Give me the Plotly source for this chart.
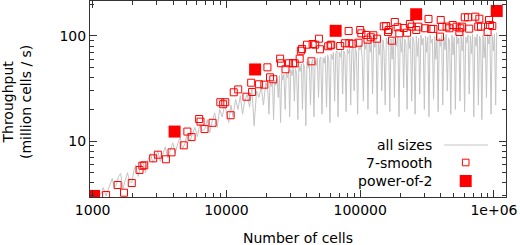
import plotly.graph_objects as go

# ---------------- data ----------------
all_x = [1000, 1050, 1100, 1150, 1200, 1260, 1300, 1350, 1400, 1450, 1500, 1560, 1620, 1680, 1750, 1820, 1890,
         1960, 2030, 2100, 2190, 2280, 2380, 2480, 2590, 2700, 2820, 2940, 3070, 3200, 3340, 3490, 3640, 3800,
         3970, 4140, 4320, 4510, 4700, 4900, 5120, 5340, 5570, 5810, 6060, 6320, 6600, 6890, 7190, 7500, 7830,
         8170, 8530, 8900, 9290, 9700,
         10000, 10400, 10800, 11200, 11700, 12200, 12700, 13200, 13700, 14300, 14900, 15500, 16100, 16800, 17500,
         18200, 18900, 19700,
         20000, 20400, 20800, 21200, 21600, 22100, 22500, 23000, 23400, 23900,
         24400, 24900, 25400, 25900, 26400, 26900, 27500, 28000, 28600, 29200,
         29700, 30300, 30900, 31600, 32200, 32800, 33500, 34200, 34800, 35500,
         36300, 37000, 37700, 38500, 39200, 40000, 40800, 41600, 42500, 43300,
         44200, 45100, 46000, 46900, 47800, 48800, 49700, 50700, 51800, 52800,
         53800, 54900, 56000, 57100, 58300, 59400, 60600, 61900, 63100, 64400,
         65600, 67000, 68300, 69700, 71100, 72500, 73900, 75400, 76900, 78500,
         80000, 81600, 83300, 84900, 86600, 88400, 90100, 91900, 93800, 95700,
         97600, 99500,
         101500, 103500, 105600, 107700, 109900, 112100, 114300, 116600, 118900, 121300,
         123700, 126200, 128700, 131300, 133900, 136600, 139300, 142100, 145000, 147900,
         150800, 153800, 156900, 160000, 163200, 166500, 169800, 173200, 176700, 180200,
         183800, 187500, 191300, 195100, 199000, 203000, 207000, 211200, 215400, 219700,
         224100, 228600, 233100, 237800, 242600, 247400, 252400, 257400, 262600, 267800,
         273200, 278600, 284200, 289900, 295700, 301600, 307600, 313800, 320100, 326500,
         333000, 339600, 346400, 353400, 360400, 367600, 375000, 382500, 390100, 397900,
         405900, 414000, 422300, 430700, 439300, 448100, 457100, 466200, 475500, 485000,
         494700, 504600, 514700, 525000, 535500, 546300, 557200, 568300, 579700, 591300,
         603100, 615200, 627500, 640000, 652800, 665900, 679200, 692800, 706700, 720800,
         735200, 749900, 764900, 780200, 795800, 811700, 828000, 844500, 861400, 878600,
         896200, 914100, 932400, 951100, 970100, 989500, 1009300, 1029500, 1048576]
all_y = [3.0, 2.9, 3.3, 3.1, 3.6, 3.0, 3.4, 3.9, 4.4, 3.6, 3.8, 4.6, 4.9, 3.5, 4.2, 5.0, 4.1,
         4.0, 5.2, 5.9, 4.6, 5.6, 6.3, 5.0, 6.6, 7.6, 6.2, 7.0, 8.0, 6.4, 7.4, 8.8, 6.9, 8.3,
         9.6, 7.6, 9.4, 10.8, 8.4, 9.5, 12.0, 10.0, 11.5, 13.5, 11.0, 14.5, 12.5, 13.0, 16.0, 12.0, 15.5,
         18.5, 13.5, 20.0, 17.0, 22.0,
         19, 15, 22, 17, 25, 20, 27, 18, 24, 28, 21, 32, 14, 30, 26,
         33, 22, 36,
         34, 30, 18, 36, 33, 37, 16, 38, 34, 40,
         26, 42, 15, 44, 38, 43, 20, 45, 40, 47,
         17, 48, 42, 50, 24, 49, 44, 16, 52, 46,
         54, 20, 55, 48, 14, 57, 50, 58, 22, 56,
         60, 17, 58, 52, 62, 26, 60, 63, 18, 62,
         55, 64, 21, 66, 58, 15, 67, 60, 70, 24,
         68, 72, 17, 70, 63, 73, 28, 72, 66, 19,
         75, 68, 76, 22, 74, 78, 30, 76, 70, 18,
         80, 74,
         82, 60, 24, 88, 75, 90, 20, 86, 70, 92,
         28, 90, 78, 94, 18, 88, 66, 95, 30, 92,
         72, 22, 96, 84, 90, 19, 94, 60, 97, 26,
         92, 80, 98, 17, 95, 70, 99, 32, 93, 84,
         20, 100, 76, 96, 24, 98, 88, 18, 100, 64,
         96, 28, 102, 82, 95, 20, 100, 70, 98, 17,
         102, 86, 94, 25, 100, 60, 104, 19, 96, 80,
         102, 22, 98, 74, 104, 30, 96, 88, 18, 102,
         66, 98, 20, 104, 84, 96, 24, 100, 72, 105,
         19, 98, 86, 102, 28, 100, 68, 104, 17, 98,
         80, 104, 22, 100, 90, 16, 102, 62, 98, 26,
         104, 84, 100, 18, 102, 72, 104, 22, 108]

smooth_x = [1260, 1536, 1715, 1960, 2240, 2352, 2430, 2835, 3072, 3528, 3888, 4800, 5103, 5488, 6250, 6400,
            6860, 7875, 9000, 9450, 9800, 10752, 11340, 12250, 14112, 15309, 15552, 17496, 19200, 20250, 21168,
            22400, 25200, 25600, 27648, 29400, 31500, 32400, 35280, 36000, 36750, 40000, 43200, 44100, 46080,
            49152, 50000, 57600, 60000, 60750, 70875, 76800, 81920, 82944, 88200, 97200, 100000, 102060, 110592,
            113400, 120000, 125440, 133343, 150000, 156250, 161280, 163296, 172800, 181440, 190512, 196000,
            211680, 224000, 235200, 243000, 262440, 272160, 306180, 324000, 338688, 352800, 395136, 400000,
            408240, 442368, 464000, 491520, 524880, 551124, 560000, 576000, 604800, 640000, 653184, 725760,
            762048, 777600, 800000, 896000, 918540, 933120, 972000]
smooth_y = [3.06, 3.81, 3.22, 3.98, 5.30, 5.82, 5.87, 6.84, 7.41, 6.70, 7.80, 9.10, 12.3, 10.9, 16.2, 15.3,
            13.0, 14.9, 23.4, 22.4, 23.4, 17.6, 29.1, 31.0, 26.4, 35.9, 29.3, 34.7, 34.4, 50.3, 40.4,
            38.7, 60.8, 55.0, 48.2, 55.0, 55.0, 55.0, 60.8, 72.4, 75.2, 82.6, 57.4, 83.9, 82.6,
            94.2, 74.7, 79.8, 81.5, 82.6, 80.3, 85.2, 111.6, 85.2, 84.4, 86.3, 114, 106, 102.2,
            92.2, 97.2, 101.6, 94.2, 123.6, 124.5, 109.2, 114, 90.2, 135.9, 121, 106,
            119.2, 107.4, 130, 122.7, 114, 122.7, 118.4, 145.2, 116.7, 116.7, 98.5, 142,
            122.7, 122.7, 118.4, 127.3, 122.7, 109.2, 118.4, 122.7, 150.7, 150.7, 117.4, 152.7,
            122.7, 146, 122.7, 109.2, 142, 127.3, 124.5]

pow2_x = [1024, 4096, 16384, 65536, 262144, 1048576]
pow2_y = [3.0, 12.3, 48, 112, 161, 173]

x_tickvals = [1000, 10000, 100000, 1000000]
x_ticktext = ["1000", "10000", "100000", "1e+06"]
y_tickvals = [10, 100]
y_ticktext = ["10", "100"]

legend_labels = ["all sizes", "7-smooth", "power-of-2"]

# ---------------- figure ----------------
RED = "#ff0000"
GRAY = "#c4c4c4"
FONT = "DejaVu Sans"

fig = go.Figure()
fig.add_trace(go.Scatter(x=all_x, y=all_y, mode="lines",
                         line=dict(color=GRAY, width=1), showlegend=False, hoverinfo="skip"))
fig.add_trace(go.Scatter(x=smooth_x, y=smooth_y, mode="markers",
                         marker=dict(symbol="square-open", size=7, color=RED, line=dict(width=1, color=RED)),
                         showlegend=False))
fig.add_trace(go.Scatter(x=pow2_x, y=pow2_y, mode="markers",
                         marker=dict(symbol="square", size=12, color=RED, line=dict(width=0)),
                         showlegend=False))

L, R, T, B = 90, 14, 1, 48
W, H = 520, 245
pw, ph = W - L - R, H - T - B


def px2paper(px, py):
    return (px - L) / pw, (H - B - py) / ph


minor_x = [m * 10 ** e for e in (3, 4, 5) for m in range(2, 10)]
minor_y = [m * 10 ** e for e in (0, 1, 2) for m in range(2, 10)]

axis_common = dict(type="log", showgrid=False, zeroline=False, showline=True, linecolor="#333333",
                   linewidth=1, mirror="allticks", ticks="inside", ticklen=7, tickwidth=1, tickcolor="#333333",
                   tickfont=dict(family=FONT, size=14, color="#000000"))

fig.update_xaxes(range=[2.98, 6.09], tickmode="array", tickvals=x_tickvals, ticktext=x_ticktext,
                 minor=dict(tickmode="array", tickvals=minor_x, ticks="inside", ticklen=4,
                            tickcolor="#333333", showgrid=False),
                 **axis_common)
fig.update_yaxes(range=[0.467, 2.333], tickmode="array", tickvals=y_tickvals, ticktext=y_ticktext,
                 minor=dict(tickmode="array", tickvals=minor_y, ticks="inside", ticklen=4,
                            tickcolor="#333333", showgrid=False),
                 **axis_common)

annotations = []
# axis titles
ax, ay = px2paper(298, 238)
annotations.append(dict(text="Number of cells", x=ax, y=ay, xref="paper", yref="paper",
                        showarrow=False, xanchor="center", yanchor="middle",
                        font=dict(family=FONT, size=14, color="#000000")))
ax, ay = px2paper(17, 102)
annotations.append(dict(text="Throughput<br>(million cells / s)", x=ax, y=ay, xref="paper", yref="paper",
                        showarrow=False, textangle=-90, xanchor="center", yanchor="middle",
                        font=dict(family=FONT, size=14, color="#000000")))

# legend (gnuplot style: text right-aligned, key to the right)
legend_rows = [145, 162.5, 181]
for lab, ry in zip(legend_labels, legend_rows):
    ax, ay = px2paper(434, ry)
    annotations.append(dict(text=lab, x=ax, y=ay, xref="paper", yref="paper", showarrow=False,
                            xanchor="right", yanchor="middle",
                            font=dict(family=FONT, size=14, color="#000000")))

shapes = []
x0, y0 = px2paper(444, legend_rows[0])
x1, _ = px2paper(488, legend_rows[0])
shapes.append(dict(type="line", xref="paper", yref="paper", x0=x0, x1=x1, y0=y0, y1=y0,
                   line=dict(color=GRAY, width=1)))
cx, cy = 465.7, legend_rows[1]
a0, b0 = px2paper(cx - 3.3, cy + 3.3)
a1, b1 = px2paper(cx + 3.3, cy - 3.3)
shapes.append(dict(type="rect", xref="paper", yref="paper", x0=a0, x1=a1, y0=b0, y1=b1,
                   line=dict(color=RED, width=1), fillcolor="rgba(0,0,0,0)"))
cx, cy = 465.7, legend_rows[2]
a0, b0 = px2paper(cx - 6, cy + 6)
a1, b1 = px2paper(cx + 6, cy - 6)
shapes.append(dict(type="rect", xref="paper", yref="paper", x0=a0, x1=a1, y0=b0, y1=b1,
                   line=dict(width=0), fillcolor=RED))

fig.update_layout(width=W, height=H, margin=dict(l=L, r=R, t=T, b=B),
                  paper_bgcolor="white", plot_bgcolor="white",
                  font=dict(family=FONT, size=14, color="#000000"),
                  showlegend=False, annotations=annotations, shapes=shapes)

fig.write_html("out.html", config={"displayModeBar": False},
               post_script="document.body.style.margin='0px';document.body.style.overflow='hidden';")
